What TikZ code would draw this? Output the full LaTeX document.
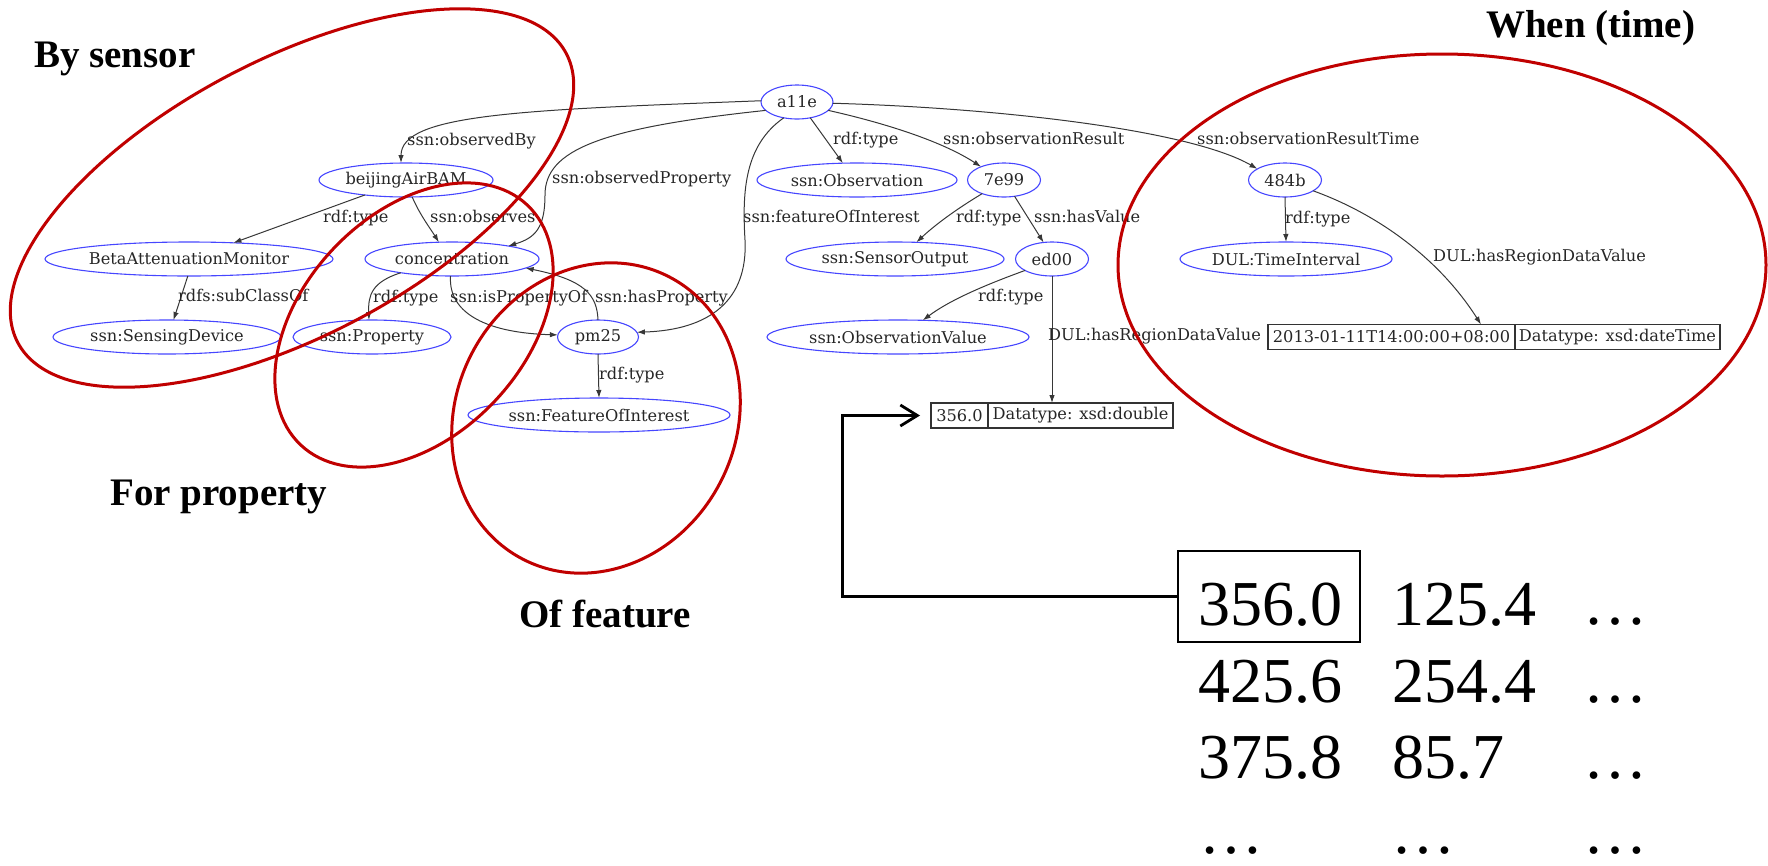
\documentclass[tikz,border=0pt]{standalone}
\usepackage{fontspec}
\setmainfont{DejaVu Serif}
\newfontfamily\tagserif{Liberation Serif}
\usetikzlibrary{shapes.geometric,arrows.meta,calc}
\definecolor{nodeblue}{RGB}{70,70,255}
\definecolor{grpred}{RGB}{192,0,0}
\definecolor{edgegray}{RGB}{55,55,55}
\newcommand\gfont{\fontsize{16.2}{19}\selectfont}
\newcommand\tagfont{\tagserif\bfseries\fontsize{39}{45}\selectfont}
\newcommand\numfont{\tagserif\fontsize{64}{70}\selectfont}

\begin{document}
\begin{tikzpicture}[x=1pt,y=1pt,
  resnode/.style={ellipse, draw=nodeblue, line width=1.1pt, inner sep=0pt, outer sep=0pt,
    minimum height=34pt, font=\gfont, text=black!85},
  litbox/.style={rectangle, draw=black!80, line width=1.2pt, inner sep=0pt, outer sep=0pt,
    minimum height=25pt, font=\gfont, text=black!85},
  rel/.style={draw=edgegray, line width=1pt, -{Latex[length=8pt,width=5.5pt]}},
  rellabel/.style={anchor=west, inner sep=0pt, font=\gfont, text=black!85,
    text height=12pt, text depth=3.5pt},
  grpring/.style={draw=grpred, line width=3pt},
  tagtext/.style={anchor=base west, inner sep=0pt, font=\tagfont},
  numtext/.style={anchor=base west, inner sep=0pt, font=\numfont},
  bigarrow/.style={draw=black, line width=2.8pt, -{Straight Barb[length=17pt,width=21pt]}}
]
\useasboundingbox (0,0) rectangle (1768,-865);

% resource nodes
\node[resnode, minimum width=72pt]  (a11e) at (797,-102) {a11e};
\node[resnode, minimum width=174pt] (bj)   at (406,-180) {beijingAirBAM};
\node[resnode, minimum width=200pt] (obs)  at (857,-180) {ssn:Observation};
\node[resnode, minimum width=73pt]  (e7e99) at (1004,-180) {7e99};
\node[resnode, minimum width=73pt]  (b484) at (1285,-180) {484b};
\node[resnode, minimum width=288pt] (beta) at (189,-259) {BetaAttenuationMonitor};
\node[resnode, minimum width=174pt] (conc) at (452,-259) {concentration};
\node[resnode, minimum width=218pt] (so)   at (895,-259) {ssn:SensorOutput};
\node[resnode, minimum width=73pt]  (ed)   at (1052,-259) {ed00};
\node[resnode, minimum width=212pt] (ti)   at (1286,-259) {DUL:TimeInterval};
\node[resnode, minimum width=228pt] (sd)   at (167,-337) {ssn:SensingDevice};
\node[resnode, minimum width=158pt] (prop) at (372,-337) {ssn:Property};
\node[resnode, minimum width=81pt]  (pm)   at (598,-337) {pm25};
\node[resnode, minimum width=262pt] (ov)   at (898,-337) {ssn:ObservationValue};
\node[resnode, minimum width=262pt] (foi)  at (599,-415) {ssn:FeatureOfInterest};

% literal boxes
\node[litbox, minimum width=57pt]  (lit1a) at (959.5,-415.5) {356.0};
\node[litbox, minimum width=185pt] (lit1b) at (1080.5,-415.5) {Datatype: xsd:double};
\node[litbox, minimum width=247pt] (lit2a) at (1391.5,-337) {2013-01-11T14:00:00+08:00};
\node[litbox, minimum width=205pt] (lit2b) at (1617.5,-337) {Datatype: xsd:dateTime};

% relations
\draw[rel] (a11e.178) .. controls (520,-110) and (401,-114) .. ([xshift=-5pt]bj.north);
\draw[rel] (a11e.195) .. controls (600,-128) and (545,-150) .. (545,-195)
           .. controls (545,-228) and (535,-238) .. (conc.13);
\draw[rel] (a11e.-50) -- (obs.130);
\draw[rel] (a11e.-15) .. controls (880,-122) and (940,-140) .. (e7e99.150);
\draw[rel] (a11e.-2) .. controls (1000,-108) and (1190,-130) .. (b484.158);
\draw[rel] (a11e.-130) .. controls (745,-145) and (742,-190) .. (745,-240)
           .. controls (748,-300) and (710,-330) .. (pm.7);
\draw[rel] (bj.-160) -- (beta.20);
\draw[rel] (bj.-70) .. controls (420,-215) and (430,-228) .. (conc.128);
\draw[rel] (beta.-94) -- (sd.69);
\draw[rel] (conc.-165) .. controls (372,-282) and (368,-295) .. (prop.100);
\draw[rel] (conc.-95) .. controls (448,-315) and (490,-333) .. (pm.177);
\draw[rel] (pm.north) .. controls (597,-295) and (585,-280) .. (conc.-7);
\draw[rel] (pm.south) -- (foi.north);
\draw[rel] (e7e99.-148) .. controls (955,-210) and (935,-225) .. (so.38);
\draw[rel] (e7e99.-57) -- (ed.117);
\draw[rel] (ed.-157) .. controls (985,-285) and (950,-300) .. (ov.34);
\draw[rel] (ed.south) -- (ed.south |- lit1b.north);
\draw[rel] (b484.south) -- (ti.north);
\draw[rel] (b484.-21) .. controls (1380,-215) and (1440,-260) .. ([xshift=-34pt]lit2a.north east);

% relation labels
\node[rellabel] (l1)  at (407,-141)  {ssn:observedBy};
\node[rellabel] (l2)  at (552,-179)  {ssn:observedProperty};
\node[rellabel] (l3)  at (833,-140)  {rdf:type};
\node[rellabel] (l4)  at (943,-140)  {ssn:observationResult};
\node[rellabel] (l5)  at (1197,-140) {ssn:observationResultTime};
\node[rellabel] (l6)  at (323,-218)  {rdf:type};
\node[rellabel] (l7)  at (430,-218)  {ssn:observes};
\node[rellabel] (l8)  at (743,-218)  {ssn:featureOfInterest};
\node[rellabel] (l9)  at (956,-218)  {rdf:type};
\node[rellabel] (l10) at (1034,-218) {ssn:hasValue};
\node[rellabel] (l11) at (1285,-219) {rdf:type};
\node[rellabel] (l12) at (1433,-257) {DUL:hasRegionDataValue};
\node[rellabel] (l13) at (178,-297)  {rdfs:subClassOf};
\node[rellabel] (l14) at (373,-298)  {rdf:type};
\node[rellabel] (l15) at (450,-298)  {ssn:isPropertyOf};
\node[rellabel] (l16) at (595,-298)  {ssn:hasProperty};
\node[rellabel] (l17) at (978,-297)  {rdf:type};
\node[rellabel] (l18) at (1048,-336) {DUL:hasRegionDataValue};
\node[rellabel] (l19) at (599,-375)  {rdf:type};

% value table
\node[draw=black, line width=2.5pt, minimum width=182pt, minimum height=91pt, inner sep=0pt]
  (big) at (1269,-596.5) {};
\node[numtext] (v11) at (1198,-625) {356.0};
\node[numtext] (v12) at (1392,-625) {125.4};
\node[numtext] (v13) at (1583,-624) {…};
\node[numtext] (v21) at (1198,-702) {425.6};
\node[numtext] (v22) at (1392,-702) {254.4};
\node[numtext] (v23) at (1583,-702) {…};
\node[numtext] (v31) at (1198,-778) {375.8};
\node[numtext] (v32) at (1392,-778) {85.7};
\node[numtext] (v33) at (1583,-778) {…};
\node[numtext] (v41) at (1199,-853) {…};
\node[numtext] (v42) at (1391,-853) {…};
\node[numtext] (v43) at (1583,-853) {…};

\coordinate (tip) at ([xshift=-11pt]lit1a.west);
\draw[bigarrow] (big.west) -- ++(-334,0) |- (tip);

% group rings
\draw[grpring] (292,-198) ellipse [x radius=310pt, y radius=138pt, rotate=27.8];
\draw[grpring] (414,-325) ellipse [x radius=165pt, y radius=111pt, rotate=46.6];
\draw[grpring] (596,-418) ellipse [x radius=159pt, y radius=140pt, rotate=62.5];
\draw[grpring] (1442,-265) ellipse [x radius=324pt, y radius=211pt];

% group titles
\node[tagtext] (t1) at (34,-67)   {By sensor};
\node[tagtext] (t2) at (1486,-37) {When (time)};
\node[tagtext] (t3) at (110,-505) {For property};
\node[tagtext] (t4) at (519,-627) {Of feature};
\end{tikzpicture}
\end{document}
